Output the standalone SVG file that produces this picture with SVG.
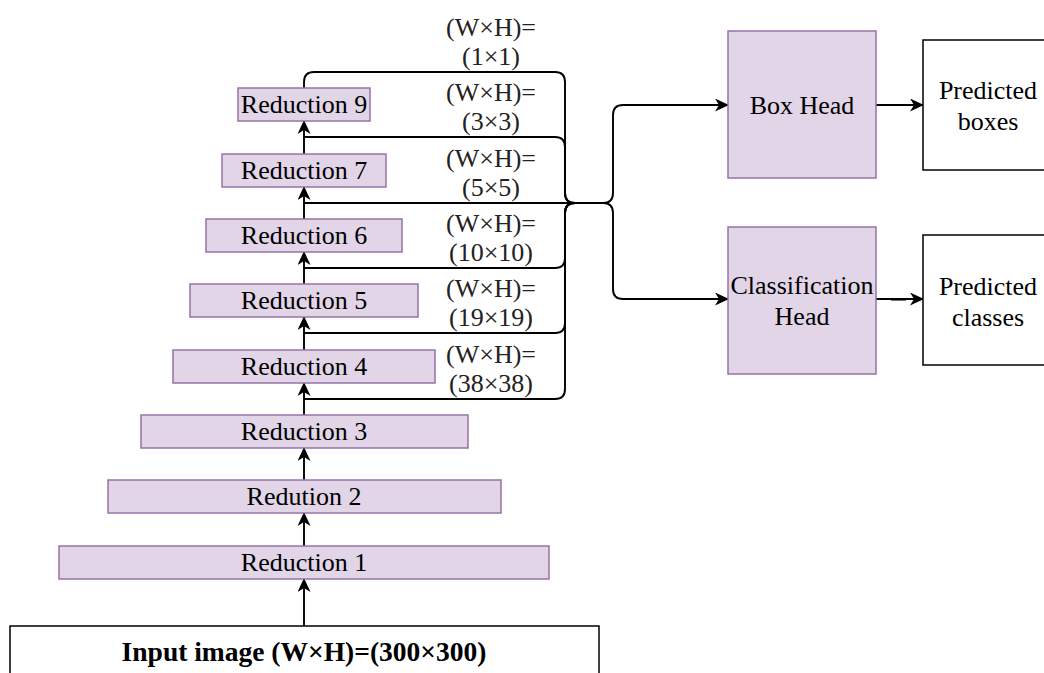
<svg xmlns="http://www.w3.org/2000/svg" width="1044" height="673" viewBox="0 0 1044 673">
  <defs>
    <style>
      .stage { fill: #e1d5e7; stroke: #9673a6; stroke-width: 1.5; }
      .plain { fill: #ffffff; stroke: #000000; stroke-width: 1.5; }
      .lbl { font-family: "Liberation Serif", "Times New Roman", serif; font-size: 26px; fill: #000000; text-anchor: middle; }
      .bold { font-weight: bold; font-size: 27.5px; }
      .dim { fill: #222222; }
      .edge { fill: none; stroke: #000000; stroke-width: 1.9; }
      .arrow { marker-end: url(#head); }
    </style>
    <marker id="head" viewBox="0 0 14 13" markerUnits="userSpaceOnUse" markerWidth="14" markerHeight="13" refX="13" refY="6.5" orient="auto">
      <path d="M0,0 L14,6.5 L0,13 L4,6.5 Z" fill="#000000"/>
    </marker>
  </defs>

  <rect width="1044" height="673" fill="#ffffff"/>

  <!-- connectors -->
  <g id="connectors">
    <!-- backbone, bottom to top -->
    <path class="edge arrow" d="M304,626 V579"/>
    <path class="edge arrow" d="M304,546 V513"/>
    <path class="edge arrow" d="M304,480 V448"/>
    <path class="edge arrow" d="M304,415 V383"/>
    <path class="edge arrow" d="M304,350 V317"/>
    <path class="edge arrow" d="M304,284 V252"/>
    <path class="edge arrow" d="M304,219 V187"/>
    <path class="edge arrow" d="M304,154 V121"/>

    <!-- feature-map taps into the shared trunk -->
    <path class="edge" d="M304,88 V82 Q304,72 314,72 H555 Q565,72 565,82 V193 Q565,203 575,203 H600"/>
    <path class="edge" d="M304,137 H555 Q565,137 565,147 V193 Q565,203 575,203 H600"/>
    <path class="edge" d="M304,203 H600"/>
    <path class="edge" d="M304,268 H555 Q565,268 565,258 V213 Q565,203 575,203 H600"/>
    <path class="edge" d="M304,333 H555 Q565,333 565,323 V213 Q565,203 575,203 H600"/>
    <path class="edge" d="M304,399 H555 Q565,399 565,389 V213 Q565,203 575,203 H600"/>

    <!-- trunk split to the two heads -->
    <path class="edge arrow" d="M590,203 H603 Q613,203 613,193 V115 Q613,105 623,105 H728"/>
    <path class="edge arrow" d="M590,203 H603 Q613,203 613,213 V289 Q613,299 623,299 H728"/>

    <!-- head outputs -->
    <path class="edge arrow" d="M876,105 H923"/>
    <path class="edge arrow" d="M876,299 H923"/>
    <path class="edge" d="M891,299.6 H906" stroke-width="2.6"/>
  </g>

  <!-- input -->
  <g id="input-image">
    <rect class="plain" x="10" y="626" width="589" height="80"/>
    <text class="lbl bold" x="304" y="661">Input image (W×H)=(300×300)</text>
  </g>

  <!-- reduction stages -->
  <g id="reduction-1">
    <rect class="stage" x="59" y="546" width="490" height="33"/>
    <text class="lbl" x="304" y="571">Reduction 1</text>
  </g>
  <g id="reduction-2">
    <rect class="stage" x="108" y="480" width="393" height="33"/>
    <text class="lbl" x="304" y="505">Redution 2</text>
  </g>
  <g id="reduction-3">
    <rect class="stage" x="141" y="415" width="327" height="33"/>
    <text class="lbl" x="304" y="440">Reduction 3</text>
  </g>
  <g id="reduction-4">
    <rect class="stage" x="173" y="350" width="262" height="33"/>
    <text class="lbl" x="304" y="375">Reduction 4</text>
  </g>
  <g id="reduction-5">
    <rect class="stage" x="190" y="284" width="228" height="33"/>
    <text class="lbl" x="304" y="309">Reduction 5</text>
  </g>
  <g id="reduction-6">
    <rect class="stage" x="206" y="219" width="196" height="33"/>
    <text class="lbl" x="304" y="244">Reduction 6</text>
  </g>
  <g id="reduction-7">
    <rect class="stage" x="222" y="154" width="164" height="33"/>
    <text class="lbl" x="304" y="179">Reduction 7</text>
  </g>
  <g id="reduction-9">
    <rect class="stage" x="238" y="88" width="132" height="33"/>
    <text class="lbl" x="304" y="113">Reduction 9</text>
  </g>

  <!-- feature map size labels -->
  <g id="size-labels">
    <text class="lbl dim" x="491" y="36">(W×H)=</text>
    <text class="lbl dim" x="491" y="64.5">(1×1)</text>
    <text class="lbl dim" x="491" y="101">(W×H)=</text>
    <text class="lbl dim" x="491" y="129.5">(3×3)</text>
    <text class="lbl dim" x="491" y="167">(W×H)=</text>
    <text class="lbl dim" x="491" y="195.5">(5×5)</text>
    <text class="lbl dim" x="491" y="232">(W×H)=</text>
    <text class="lbl dim" x="491" y="260.5">(10×10)</text>
    <text class="lbl dim" x="491" y="297">(W×H)=</text>
    <text class="lbl dim" x="491" y="325.5">(19×19)</text>
    <text class="lbl dim" x="491" y="363">(W×H)=</text>
    <text class="lbl dim" x="491" y="391.5">(38×38)</text>
  </g>

  <!-- heads -->
  <g id="box-head">
    <rect class="stage" x="728" y="31" width="148" height="147"/>
    <text class="lbl" x="802" y="114">Box Head</text>
  </g>
  <g id="classification-head">
    <rect class="stage" x="728" y="227" width="148" height="147"/>
    <text class="lbl" x="802" y="294">Classification</text>
    <text class="lbl" x="802" y="325">Head</text>
  </g>

  <!-- outputs -->
  <g id="predicted-boxes">
    <rect class="plain" x="923" y="40" width="130" height="130"/>
    <text class="lbl" x="988" y="99">Predicted</text>
    <text class="lbl" x="988" y="130">boxes</text>
  </g>
  <g id="predicted-classes">
    <rect class="plain" x="923" y="235" width="130" height="130"/>
    <text class="lbl" x="988" y="295">Predicted</text>
    <text class="lbl" x="988" y="326">classes</text>
  </g>
</svg>
